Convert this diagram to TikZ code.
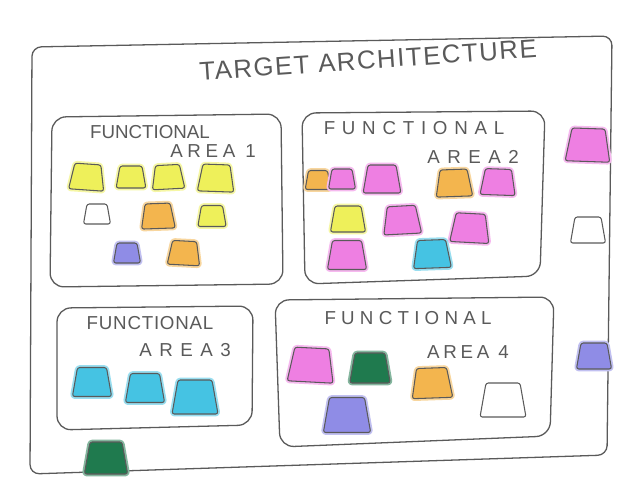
\documentclass[tikz,border=0pt]{standalone}
\usepackage{fontspec}
\setmainfont{Liberation Sans}
\usetikzlibrary{shapes.geometric,positioning}
\definecolor{ink}{HTML}{5A5A5A}
\definecolor{notey}{HTML}{EEF05A}
\definecolor{noteo}{HTML}{F3B54E}
\definecolor{notep}{HTML}{EE7FE2}
\definecolor{notec}{HTML}{45C3E3}
\definecolor{notev}{HTML}{8F8CE6}
\definecolor{noteg}{HTML}{1F7A4E}
\tikzset{
  sketch/.style={draw=ink,line width=1.1pt},
  note/.style={trapezium,trapezium angle=80,
    draw=ink,line width=0.9pt,rounded corners=2pt,inner sep=1pt},
  titletext/.style={text=ink,font=\fontsize{22}{24}\selectfont\addfontfeature{LetterSpace=6}},
  areatext/.style={text=ink,font=\fontsize{16}{18}\selectfont},
  wide/.style={font=\fontsize{16}{18}\selectfont\addfontfeature{LetterSpace=#1}}
}
\begin{document}
\begin{tikzpicture}[x=0.03cm,y=-0.03cm,line join=round,line cap=round]
\useasboundingbox (0,0) rectangle (640,493);
\fill[white] (0,0) rectangle (640,493);
% frame and areas
\draw[sketch,rounded corners=8pt] (320,41.5) -- (612,36) -- (607,455) -- (30,474) -- (32,47) -- cycle;
\draw[sketch,rounded corners=12pt] (166,115.5) -- (281,114) -- (283,284) -- (50,287) -- (52,117) -- cycle;
\draw[sketch,rounded corners=12pt] (423,112) -- (545,111) -- (540,276) -- (305,284) -- (302,113) -- cycle;
\draw[sketch,rounded corners=12pt] (155,307) -- (253,306) -- (252,425) -- (57,430) -- (57,308) -- cycle;
\draw[sketch,rounded corners=12pt] (414,298.5) -- (554,297) -- (550,436) -- (280,447) -- (275,300) -- cycle;
% texts
\node[titletext,rotate=4] (title) at (368,60) {TARGET ARCHITECTURE};
\node[areatext] (fa1) at (150,132) {FUNCTIONAL};
\node[areatext,wide=25] (ar1) at (213,151) {AREA 1};
\node[areatext,wide=36] (fa2) at (414,128) {FUNCTIONAL};
\node[areatext,wide=40] (ar2) at (473,157) {AREA2};
\node[areatext,wide=4] (fa3) at (150,323) {FUNCTIONAL};
\node[areatext,wide=40] (ar3) at (185,350) {AREA3};
\node[areatext,wide=28] (fa4) at (408,318) {FUNCTIONAL};
\node[areatext,wide=20] (ar4) at (468,352) {AREA 4};
% notes
\foreach \n/\x/\y/\c/\w/\r in {
  a1/87/177/notey/26/-4, a2/131/177/notey/22/0, a3/168/177/notey/24/3,
  a4/216/178/notey/27/-2, a5/97/214/white/20/0, a6/158/216/noteo/25/2,
  a7/212/216/notey/21/0, a8/127/253/notev/20/0, a9/184/253/noteo/24/-3,
  b1/318/180/noteo/19/0, b2/342/179/notep/20/0, b3/382/179/notep/28/0,
  b4/454/183/noteo/27/2, b5/498/182/notep/26/-2, b6/348/219/notey/26/0,
  b7/402/220/notep/28/3, b8/470/228/notep/29/-3, b9/347/255/notep/29/0,
  b10/432/254/notec/28/2, o1/588/145/notep/33/-2, o2/588/230/white/26/0,
  c1/92/382/notec/29/0, c2/145/388/notec/29/0, c3/195/397/notec/34/0,
  g1/106/458/noteg/32/0, o3/594/356/notev/26/0,
  d1/311/365/notep/34/-3, d2/370/368/noteg/30/0, d3/432/383/noteo/30/2,
  d4/503/400/white/34/0, d5/347/415/notev/35/0}
  {\node[note,fill=\c,rotate=\r,preaction={draw=\c!55,line width=4pt},
     minimum width={\w*0.03cm},minimum height={\w*0.03cm}] (\n) at (\x,\y) {};}
\end{tikzpicture}
\end{document}
